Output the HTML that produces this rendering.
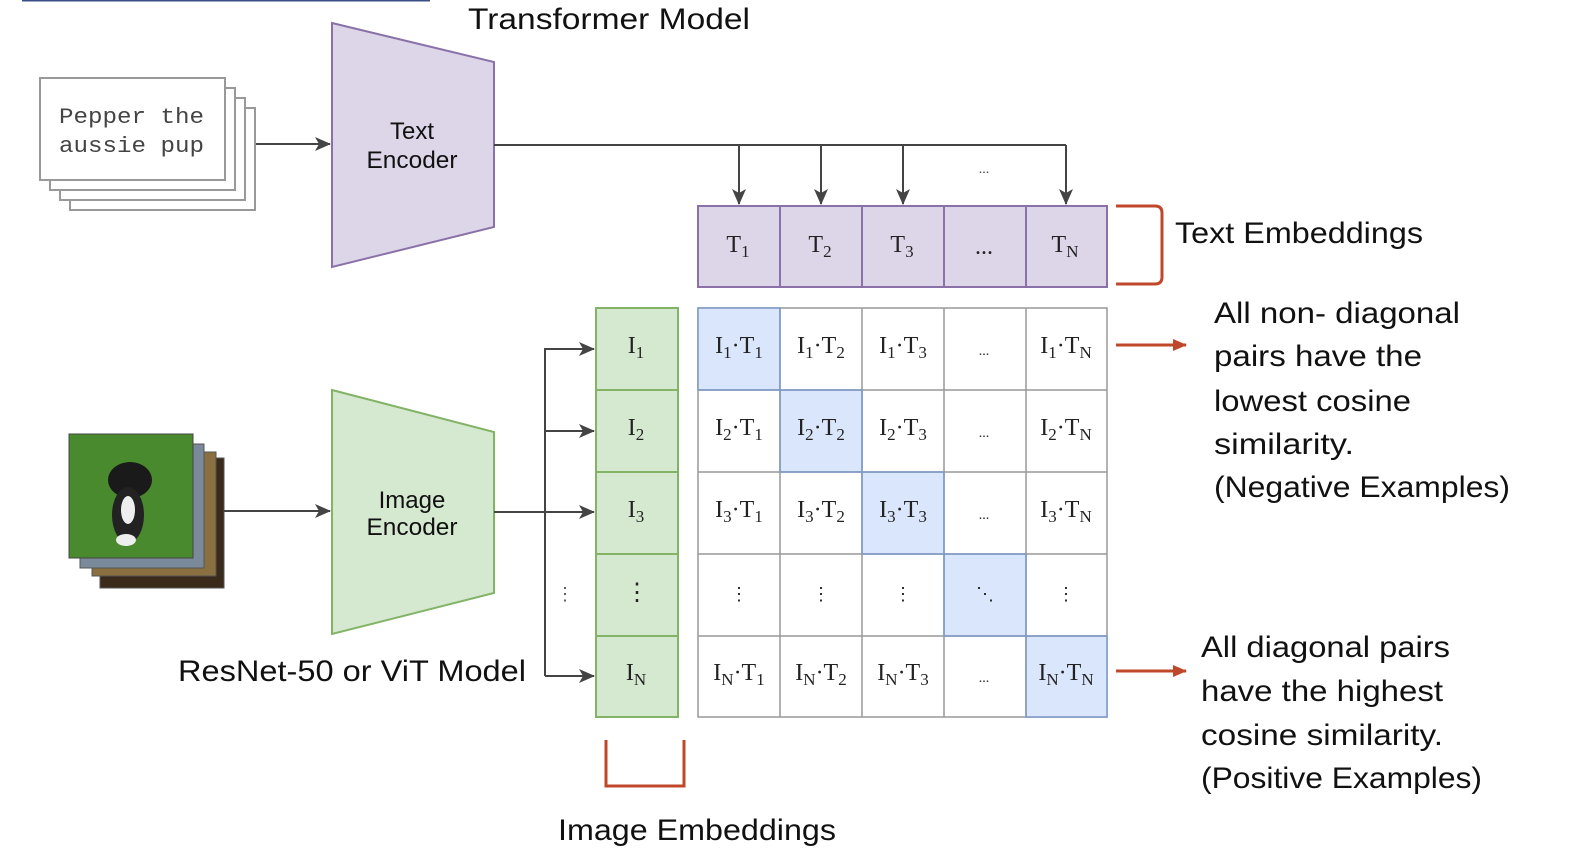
<!DOCTYPE html>
<html><head><meta charset="utf-8"><style>
html,body{margin:0;padding:0;background:#fff;}
svg{display:block;}
.t{font-family:"Liberation Sans",sans-serif;fill:#111;}
.s{font-family:"Liberation Serif",serif;fill:#222;font-size:24px;}
</style></head><body>
<svg width="1572" height="864" viewBox="0 0 1572 864" xmlns="http://www.w3.org/2000/svg">
<defs>
<marker id="ahb" markerWidth="16" markerHeight="14" refX="15" refY="7" orient="auto" markerUnits="userSpaceOnUse"><path d="M0,0 L16,7 L0,14 L4,7 Z" fill="#444"/></marker>
<marker id="ao" markerWidth="14" markerHeight="14" refX="13" refY="7" orient="auto" markerUnits="userSpaceOnUse"><path d="M0,1 L14,7 L0,13 Z" fill="#c0482a"/></marker>
</defs>
<line x1="22" y1="0.5" x2="430" y2="0.5" stroke="#3a4f8a" stroke-width="2"/>
<text class="t" x="468" y="29" font-size="30" textLength="282" lengthAdjust="spacingAndGlyphs">Transformer Model</text>

<rect x="70" y="108" width="185" height="102" fill="#fff" stroke="#999" stroke-width="2"/>
<rect x="60" y="98" width="185" height="102" fill="#fff" stroke="#999" stroke-width="2"/>
<rect x="50" y="88" width="185" height="102" fill="#fff" stroke="#999" stroke-width="2"/>
<rect x="40" y="78" width="185" height="102" fill="#fff" stroke="#999" stroke-width="2"/>
<text x="59" y="123" font-family="Liberation Mono,monospace" font-size="22" fill="#444" textLength="145" lengthAdjust="spacingAndGlyphs">Pepper the</text>
<text x="59" y="152" font-family="Liberation Mono,monospace" font-size="22" fill="#444" textLength="145" lengthAdjust="spacingAndGlyphs">aussie pup</text>
<line x1="256" y1="144" x2="330" y2="144" stroke="#444" stroke-width="2" marker-end="url(#ahb)"/>

<polygon points="332,23 494,62 494,227 332,267" fill="#ddd5e8" stroke="#8a72a8" stroke-width="2"/>
<text class="t" x="412" y="139" font-size="24" text-anchor="middle">Text</text>
<text class="t" x="412" y="168" font-size="24" text-anchor="middle" textLength="91" lengthAdjust="spacingAndGlyphs">Encoder</text>
<line x1="494" y1="145" x2="1066" y2="145" stroke="#444" stroke-width="2"/>
<line x1="739" y1="145" x2="739" y2="204" stroke="#444" stroke-width="2" marker-end="url(#ahb)"/>
<line x1="821" y1="145" x2="821" y2="204" stroke="#444" stroke-width="2" marker-end="url(#ahb)"/>
<line x1="903" y1="145" x2="903" y2="204" stroke="#444" stroke-width="2" marker-end="url(#ahb)"/>
<line x1="1066" y1="145" x2="1066" y2="204" stroke="#444" stroke-width="2" marker-end="url(#ahb)"/>
<text x="984" y="173" font-size="14" fill="#444" text-anchor="middle" font-family="Liberation Serif,serif">...</text>

<g fill="#ddd5e8" stroke="#8a72a8" stroke-width="2">
<rect x="698" y="206" width="82" height="81"/><rect x="780" y="206" width="82" height="81"/><rect x="862" y="206" width="82" height="81"/><rect x="944" y="206" width="82" height="81"/><rect x="1026" y="206" width="81" height="81"/>
</g>
<text class="s" x="738" y="252" text-anchor="middle">T<tspan font-size="17" dy="5">1</tspan></text>
<text class="s" x="820" y="252" text-anchor="middle">T<tspan font-size="17" dy="5">2</tspan></text>
<text class="s" x="902" y="252" text-anchor="middle">T<tspan font-size="17" dy="5">3</tspan></text>
<text class="s" x="984" y="254" text-anchor="middle" font-size="14">...</text>
<text class="s" x="1065" y="252" text-anchor="middle">T<tspan font-size="17" dy="5">N</tspan></text>
<path d="M1116,206 H1155 Q1162,206 1162,213 V277 Q1162,284 1155,284 H1116" fill="none" stroke="#c0482a" stroke-width="3"/>
<text class="t" x="1175" y="243" font-size="30" textLength="248" lengthAdjust="spacingAndGlyphs">Text Embeddings</text>

<rect x="100" y="458" width="124" height="130" fill="#3a2a1a" stroke="#555"/>
<rect x="92" y="452" width="124" height="124" fill="#8a7040" stroke="#555"/>
<rect x="80" y="444" width="124" height="124" fill="#7a8a9a" stroke="#555"/>
<rect x="69" y="434" width="124" height="124" fill="#4a8a2e" stroke="#444"/>
<ellipse cx="130" cy="480" rx="22" ry="18" fill="#1a1a1a"/>
<ellipse cx="128" cy="515" rx="16" ry="28" fill="#222"/>
<ellipse cx="128" cy="510" rx="7" ry="14" fill="#eee"/>
<ellipse cx="126" cy="540" rx="10" ry="6" fill="#eee"/>
<line x1="224" y1="511" x2="330" y2="511" stroke="#444" stroke-width="2" marker-end="url(#ahb)"/>

<polygon points="332,390 494,432 494,593 332,634" fill="#d5e8d0" stroke="#82b366" stroke-width="2"/>
<text class="t" x="412" y="508" font-size="24" text-anchor="middle">Image</text>
<text class="t" x="412" y="535" font-size="24" text-anchor="middle" textLength="91" lengthAdjust="spacingAndGlyphs">Encoder</text>
<text class="t" x="178" y="681" font-size="30" textLength="348" lengthAdjust="spacingAndGlyphs">ResNet-50 or ViT Model</text>

<line x1="494" y1="512" x2="594" y2="512" stroke="#444" stroke-width="2" marker-end="url(#ahb)"/>
<line x1="545" y1="348" x2="545" y2="676" stroke="#444" stroke-width="2"/>
<line x1="545" y1="349" x2="594" y2="349" stroke="#444" stroke-width="2" marker-end="url(#ahb)"/>
<line x1="545" y1="431" x2="594" y2="431" stroke="#444" stroke-width="2" marker-end="url(#ahb)"/>
<line x1="545" y1="676" x2="594" y2="676" stroke="#444" stroke-width="2" marker-end="url(#ahb)"/>
<text x="565" y="600" font-size="18" fill="#555" text-anchor="middle" font-family="Liberation Serif,serif">⋮</text>

<g fill="#d5e8d0" stroke="#82b366" stroke-width="2">
<rect x="596" y="308" width="82" height="82"/><rect x="596" y="390" width="82" height="82"/><rect x="596" y="472" width="82" height="82"/><rect x="596" y="554" width="82" height="82"/><rect x="596" y="636" width="82" height="81"/>
</g>
<text class="s" x="636" y="353" text-anchor="middle">I<tspan font-size="17" dy="5">1</tspan></text>
<text class="s" x="636" y="435" text-anchor="middle">I<tspan font-size="17" dy="5">2</tspan></text>
<text class="s" x="636" y="517" text-anchor="middle">I<tspan font-size="17" dy="5">3</tspan></text>
<text class="s" x="637" y="600" text-anchor="middle" font-size="18">⋮</text>
<text class="s" x="636" y="680" text-anchor="middle">I<tspan font-size="17" dy="5">N</tspan></text>
<path d="M606,740 V786 H684 V740" fill="none" stroke="#c0482a" stroke-width="3"/>
<text class="t" x="558" y="840" font-size="30" textLength="278" lengthAdjust="spacingAndGlyphs">Image Embeddings</text>

<rect x="698" y="308" width="409" height="409" stroke="#999" stroke-width="1.5" fill="#fff"/>
<g fill="#dae6fb">
<rect x="698" y="308" width="82" height="82"/><rect x="780" y="390" width="82" height="82"/><rect x="862" y="472" width="82" height="82"/><rect x="944" y="554" width="82" height="82"/><rect x="1026" y="636" width="81" height="81"/>
</g>
<g stroke="#999" stroke-width="1.5">
<line x1="780" y1="308" x2="780" y2="717"/><line x1="862" y1="308" x2="862" y2="717"/><line x1="944" y1="308" x2="944" y2="717"/><line x1="1026" y1="308" x2="1026" y2="717"/>
<line x1="698" y1="390" x2="1107" y2="390"/><line x1="698" y1="472" x2="1107" y2="472"/><line x1="698" y1="554" x2="1107" y2="554"/><line x1="698" y1="636" x2="1107" y2="636"/>
</g>
<g fill="none" stroke="#7a98c8" stroke-width="1.5">
<rect x="698" y="308" width="82" height="82"/><rect x="780" y="390" width="82" height="82"/><rect x="862" y="472" width="82" height="82"/><rect x="944" y="554" width="82" height="82"/><rect x="1026" y="636" width="81" height="81"/>
</g>
<g class="s" text-anchor="middle">
<text x="739" y="353">I<tspan font-size="17" dy="5">1</tspan><tspan dy="-5">·T</tspan><tspan font-size="17" dy="5">1</tspan></text>
<text x="821" y="353">I<tspan font-size="17" dy="5">1</tspan><tspan dy="-5">·T</tspan><tspan font-size="17" dy="5">2</tspan></text>
<text x="903" y="353">I<tspan font-size="17" dy="5">1</tspan><tspan dy="-5">·T</tspan><tspan font-size="17" dy="5">3</tspan></text>
<text x="984" y="355" font-size="14">...</text>
<text x="1066" y="353">I<tspan font-size="17" dy="5">1</tspan><tspan dy="-5">·T</tspan><tspan font-size="17" dy="5">N</tspan></text>

<text x="739" y="435">I<tspan font-size="17" dy="5">2</tspan><tspan dy="-5">·T</tspan><tspan font-size="17" dy="5">1</tspan></text>
<text x="821" y="435">I<tspan font-size="17" dy="5">2</tspan><tspan dy="-5">·T</tspan><tspan font-size="17" dy="5">2</tspan></text>
<text x="903" y="435">I<tspan font-size="17" dy="5">2</tspan><tspan dy="-5">·T</tspan><tspan font-size="17" dy="5">3</tspan></text>
<text x="984" y="437" font-size="14">...</text>
<text x="1066" y="435">I<tspan font-size="17" dy="5">2</tspan><tspan dy="-5">·T</tspan><tspan font-size="17" dy="5">N</tspan></text>

<text x="739" y="517">I<tspan font-size="17" dy="5">3</tspan><tspan dy="-5">·T</tspan><tspan font-size="17" dy="5">1</tspan></text>
<text x="821" y="517">I<tspan font-size="17" dy="5">3</tspan><tspan dy="-5">·T</tspan><tspan font-size="17" dy="5">2</tspan></text>
<text x="903" y="517">I<tspan font-size="17" dy="5">3</tspan><tspan dy="-5">·T</tspan><tspan font-size="17" dy="5">3</tspan></text>
<text x="984" y="519" font-size="14">...</text>
<text x="1066" y="517">I<tspan font-size="17" dy="5">3</tspan><tspan dy="-5">·T</tspan><tspan font-size="17" dy="5">N</tspan></text>

<text x="739" y="600" font-size="18">⋮</text>
<text x="821" y="600" font-size="18">⋮</text>
<text x="903" y="600" font-size="18">⋮</text>
<text x="985" y="600" font-size="18">⋱</text>
<text x="1066" y="600" font-size="18">⋮</text>

<text x="739" y="680">I<tspan font-size="17" dy="5">N</tspan><tspan dy="-5">·T</tspan><tspan font-size="17" dy="5">1</tspan></text>
<text x="821" y="680">I<tspan font-size="17" dy="5">N</tspan><tspan dy="-5">·T</tspan><tspan font-size="17" dy="5">2</tspan></text>
<text x="903" y="680">I<tspan font-size="17" dy="5">N</tspan><tspan dy="-5">·T</tspan><tspan font-size="17" dy="5">3</tspan></text>
<text x="984" y="682" font-size="14">...</text>
<text x="1066" y="680">I<tspan font-size="17" dy="5">N</tspan><tspan dy="-5">·T</tspan><tspan font-size="17" dy="5">N</tspan></text>
</g>

<line x1="1116" y1="345" x2="1186" y2="345" stroke="#c0482a" stroke-width="3" marker-end="url(#ao)"/>
<line x1="1116" y1="671" x2="1186" y2="671" stroke="#c0482a" stroke-width="3" marker-end="url(#ao)"/>

<g class="t" font-size="30">
<text x="1214" y="323" textLength="246" lengthAdjust="spacingAndGlyphs">All non- diagonal</text>
<text x="1214" y="366" textLength="208" lengthAdjust="spacingAndGlyphs">pairs have the</text>
<text x="1214" y="411" textLength="197" lengthAdjust="spacingAndGlyphs">lowest cosine</text>
<text x="1214" y="454" textLength="140" lengthAdjust="spacingAndGlyphs">similarity.</text>
<text x="1214" y="497" textLength="296" lengthAdjust="spacingAndGlyphs">(Negative Examples)</text>
<text x="1201" y="657" textLength="249" lengthAdjust="spacingAndGlyphs">All diagonal pairs</text>
<text x="1201" y="701" textLength="242" lengthAdjust="spacingAndGlyphs">have the highest</text>
<text x="1201" y="745" textLength="242" lengthAdjust="spacingAndGlyphs">cosine similarity.</text>
<text x="1201" y="788" textLength="281" lengthAdjust="spacingAndGlyphs">(Positive Examples)</text>
</g>
</svg>
</body></html>
